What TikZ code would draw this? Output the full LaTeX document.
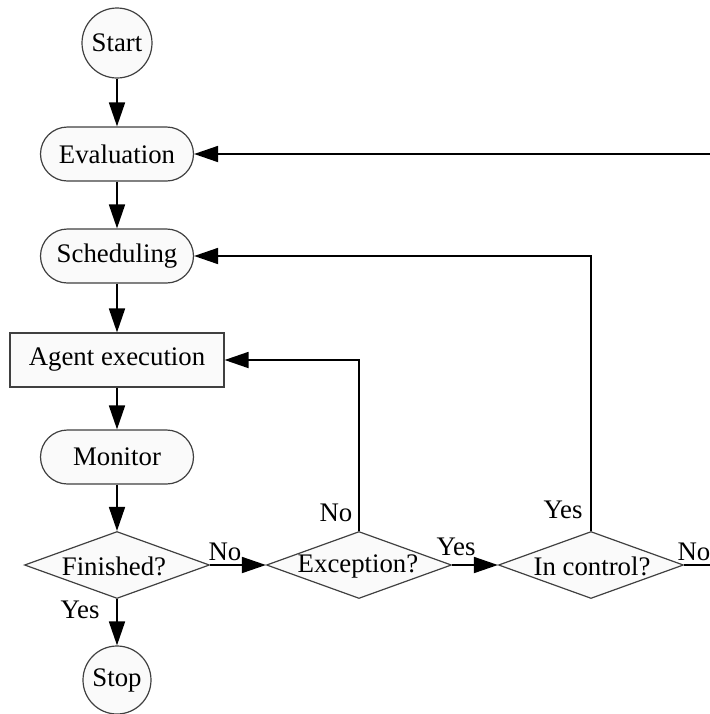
\documentclass[tikz,border=0pt]{standalone}
\usepackage{fontspec}
\setmainfont{Liberation Serif}
\usetikzlibrary{shapes.geometric,arrows.meta}
\begin{document}
\begin{tikzpicture}[x=0.5pt,y=-0.5pt,
  font=\fontsize{13.4pt}{16pt}\selectfont,
  shapeline/.style={draw=black!75,line width=0.6pt,fill=black!2},
  term/.style={shapeline,circle,minimum size=35pt,inner sep=0pt},
  pill/.style={shapeline,rectangle,rounded corners=13.5pt,minimum width=76.5pt,minimum height=27pt,inner sep=0pt},
  proc/.style={shapeline,rectangle,minimum width=107pt,minimum height=27pt,inner sep=0pt},
  dia/.style={shapeline,diamond,minimum width=92.5pt,minimum height=33.5pt,inner sep=0pt},
  txt/.style={inner sep=0pt},
  arr/.style={line width=0.9pt,-{Triangle[length=12pt,width=8pt]}},
  ln/.style={line width=0.9pt}]
\useasboundingbox (0,0) rectangle (710,714);
\node[term] (start) at (117,43) {Start};
\node[pill] (eval) at (117,154) {Evaluation};
\node[pill] (sched) at (117,256) {Scheduling};
\node[proc] (agent) at (117,360) {Agent execution};
\node[pill] (mon) at (117,457) {Monitor};
\node[dia] (fin) at (117,565) {};
\node[txt] (fint) at (114,566) {Finished?};
\node[dia] (exc) at (359,565) {};
\node[txt] (exct) at (358,566) {Exception?};
\node[dia] (ctl) at (591,565) {};
\node[txt] (ctlt) at (592,566) {In control?};
\node[term,minimum size=34pt] (stop) at (117,680) {Stop};
\coordinate (rin) at (710,154);
\coordinate (rout) at (710,565);
\draw[arr] (start) -- (eval);
\draw[arr] (eval) -- (sched);
\draw[arr] (sched) -- (agent);
\draw[arr] (agent) -- (mon);
\draw[arr] (mon) -- (fin.north);
\draw[arr] (fin.south) -- (stop);
\draw[arr] (fin.east) -- (exc.west);
\draw[arr] (exc.east) -- (ctl.west);
\draw[arr] (exc.north) |- (agent.east);
\draw[arr] (ctl.north) |- (sched.east);
\draw[arr] (rin) -- (eval.east);
\draw[ln] (ctl.east) -- (rout);
\node[txt] (l1) at (225,552) {No};
\node[txt] (l2) at (80,610) {Yes};
\node[txt] (l3) at (336,513) {No};
\node[txt] (l4) at (456,547) {Yes};
\node[txt] (l5) at (563,510) {Yes};
\node[txt] (l6) at (694,552) {No};
\end{tikzpicture}
\end{document}
